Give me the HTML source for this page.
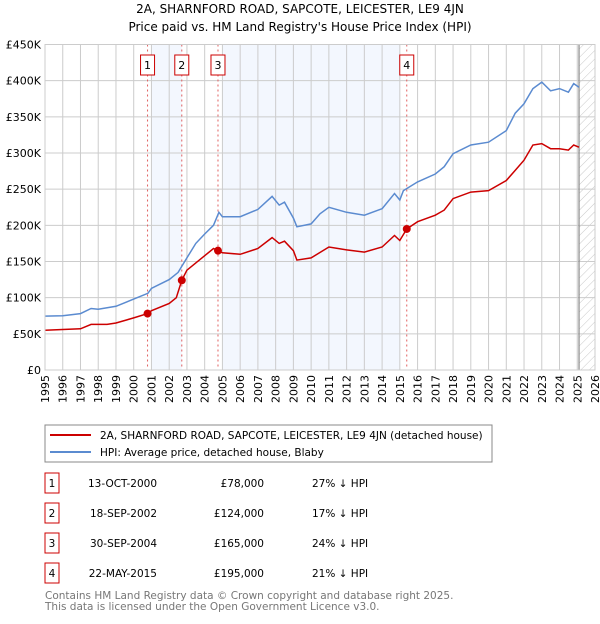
<!DOCTYPE html>
<html><head><meta charset="utf-8"><style>
body{margin:0;background:#fff;font-family:"DejaVu Sans","Liberation Sans",sans-serif;}
svg text{font-family:"DejaVu Sans","Liberation Sans",sans-serif;}
</style></head><body>
<svg id="c" width="600" height="620" xmlns="http://www.w3.org/2000/svg">
<defs><pattern id="hatch" width="6" height="6" patternUnits="userSpaceOnUse" patternTransform="rotate(45)"><line x1="0" y1="0" x2="0" y2="6" stroke="#bbb" stroke-width="0.8"/></pattern></defs>
<text x="300" y="13" text-anchor="middle" font-size="12">2A, SHARNFORD ROAD, SAPCOTE, LEICESTER, LE9 4JN</text>
<text x="300" y="31" text-anchor="middle" font-size="12">Price paid vs. HM Land Registry's House Price Index (HPI)</text>
<g id="plot"></g>
<rect x="45" y="425" width="447" height="37" fill="none" stroke="#888"/>
<line x1="50" y1="435" x2="91" y2="435" stroke="#cc0000" stroke-width="2"/>
<text x="100" y="439" font-size="10.5">2A, SHARNFORD ROAD, SAPCOTE, LEICESTER, LE9 4JN (detached house)</text>
<line x1="50" y1="452" x2="91" y2="452" stroke="#5b8bd0" stroke-width="2"/>
<text x="100" y="456" font-size="10.5">HPI: Average price, detached house, Blaby</text>
<g id="table"></g>
<text x="45" y="599" font-size="10.5" fill="#777">Contains HM Land Registry data © Crown copyright and database right 2025.</text>
<text x="45" y="610" font-size="10.5" fill="#777">This data is licensed under the Open Government Licence v3.0.</text>
</svg>
<script>
const hpiYears=[1995,1996,1997,1997.6,1998,1999,2000,2000.8,2001,2002,2002.5,2003,2003.5,2004,2004.5,2004.8,2005,2006,2007,2007.8,2008.2,2008.5,2009,2009.2,2010,2010.5,2011,2012,2013,2014,2014.7,2015,2015.2,2016,2017,2017.5,2018,2019,2020,2021,2021.5,2022,2022.5,2023,2023.5,2024,2024.5,2024.8,2025.1];
const hpiValues=[74.5,75,78,85,84,88,98,106,113,125,135,155,175,188,200,218,212,212,222,240,228,232,210,198,202,216,225,218,214,223,244,235,248,260,271,281,299,311,315,331,355,368,389,398,386,389,384,396,391];
const priceYears=[1995,1996,1997,1997.6,1998.5,1999,2000,2000.78,2001,2002,2002.4,2002.71,2003,2003.5,2004,2004.5,2004.75,2005,2006,2007,2007.8,2008.2,2008.5,2009,2009.2,2010,2011,2012,2013,2014,2014.7,2015,2015.39,2016,2017,2017.5,2018,2019,2020,2021,2021.5,2022,2022.5,2023,2023.5,2024,2024.5,2024.8,2025.1];
const priceValues=[55,56,57,63,63,65,72,78,82,92,100,124,138,148,158,168,165,162,160,168,183,175,178,165,152,155,170,166,163,170,186,179,195,205,214,221,237,246,248,262,276,290,311,313,306,306,304,311,308];
const saleLabels=["1","2","3","4"];
const saleYears=[2000.78,2002.71,2004.75,2015.39];
const saleValues=[78,124,165,195];
const saleDates=["13-OCT-2000","18-SEP-2002","30-SEP-2004","22-MAY-2015"];
const salePrices=["£78,000","£124,000","£165,000","£195,000"];
const saleHpi=["27% ↓ HPI","17% ↓ HPI","24% ↓ HPI","21% ↓ HPI"];
const yTicks=[0,50,100,150,200,250,300,350,400,450];
const yTickLabels=["£0","£50K","£100K","£150K","£200K","£250K","£300K","£350K","£400K","£450K"];
const xTicks=[1995,1996,1997,1998,1999,2000,2001,2002,2003,2004,2005,2006,2007,2008,2009,2010,2011,2012,2013,2014,2015,2016,2017,2018,2019,2020,2021,2022,2023,2024,2025,2026];

const L=45,R=595,T=44.5,B=370;
const x=v=>L+(v-1995)/(2026-1995)*(R-L);
const y=v=>B-v/450*(B-T);
const NS="http://www.w3.org/2000/svg";
const g=document.getElementById('plot');
function mk(t,a,p){const e=document.createElementNS(NS,t);for(const k in a)e.setAttribute(k,a[k]);(p||g).appendChild(e);return e;}
let e;
e=mk('rect',{x:x(2001),y:T,width:x(2002.71)-x(2001),height:B-T,fill:'#eef3fd',opacity:0.7});


e=mk('rect',{x:x(2005),y:T,width:x(2015)-x(2005),height:B-T,fill:'#eef3fd',opacity:0.7});


e=mk('rect',{x:x(2025.1),y:T,width:R-x(2025.1),height:B-T,fill:'url(#hatch)'});


yTicks.forEach((v,i)=>{
 e=mk('line',{x1:L,x2:R,y1:y(v),y2:y(v),stroke:'#ccc'});
 
 
 e=mk('text',{x:L-4,y:y(v)+4,'text-anchor':'end','font-size':11});
 e.textContent=yTickLabels[i];
 
 
});
xTicks.forEach(v=>{
 e=mk('line',{x1:x(v),x2:x(v),y1:T,y2:B,stroke:'#ccc'});
 
 
 e=mk('text',{x:0,y:0,'text-anchor':'end','font-size':11,transform:`translate(${x(v)+4},${B+5}) rotate(-90)`});
 e.textContent=v;
 
 
});
e=mk('line',{x1:x(2025.1),x2:x(2025.1),y1:T,y2:B,stroke:'#888','stroke-width':1.2});


saleYears.forEach((v,i)=>{
 e=mk('line',{x1:x(v),x2:x(v),y1:T,y2:B,stroke:'#e06060','stroke-dasharray':'2,3'});
 
 
 e=mk('rect',{x:x(v)-7,y:55,width:14,height:20,fill:'#fff',stroke:'#cc0000'});
 
 
 e=mk('text',{x:x(v),y:69,'text-anchor':'middle','font-size':11});
 e.textContent=saleLabels[i];
 
 
});
const pts=(xs,vs)=>xs.map((a,i)=>x(a).toFixed(1)+','+y(vs[i]).toFixed(1)).join(' ');
e=mk('polyline',{points:pts(hpiYears,hpiValues),fill:'none',stroke:'#5b8bd0','stroke-width':1.5});


e=mk('polyline',{points:pts(priceYears,priceValues),fill:'none',stroke:'#cc0000','stroke-width':1.5});


saleYears.forEach((v,i)=>{
 e=mk('circle',{cx:x(v),cy:y(saleValues[i]),r:4,fill:'#cc0000'});
 
 
});
e=mk('rect',{x:L,y:T,width:R-L,height:B-T,fill:'none',stroke:'#ccc'});


const tg=document.getElementById('table');
saleLabels.forEach((s,i)=>{
 const cy=483+i*30;
 e=mk('rect',{x:45,y:cy-10,width:14,height:20,fill:'#fff',stroke:'#cc0000'},tg);
 
 
 e=mk('text',{x:52,y:cy+4,'text-anchor':'middle','font-size':10.5},tg);e.textContent=s;
 
 
 e=mk('text',{x:157,y:cy+4,'text-anchor':'end','font-size':10.5},tg);e.textContent=saleDates[i];
 
 
 e=mk('text',{x:264,y:cy+4,'text-anchor':'end','font-size':10.5},tg);e.textContent=salePrices[i];
 
 
 e=mk('text',{x:312,y:cy+4,'font-size':10.5},tg);e.textContent=saleHpi[i];
 
 
});
</script>
</body></html>
